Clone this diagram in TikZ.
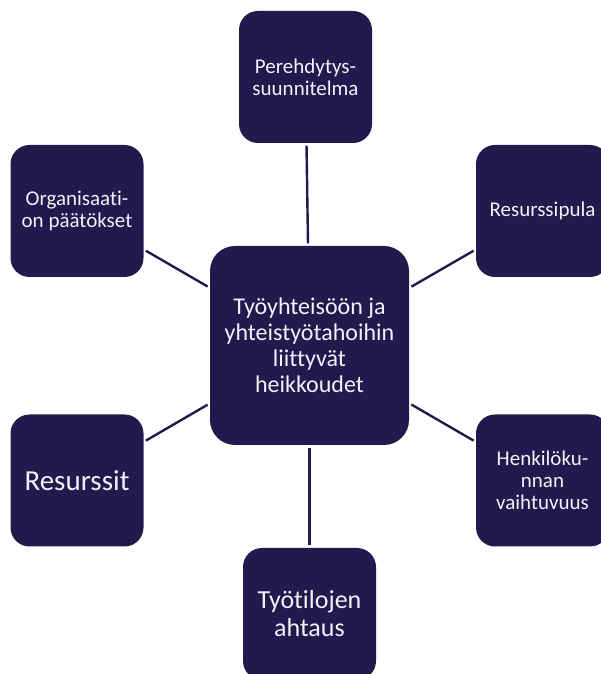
\documentclass[tikz,border=0pt]{standalone}
\usepackage{fontspec}
\setmainfont{Carlito}[Ligatures={NoCommon}]
\usepackage{tikz}
\usetikzlibrary{positioning}
\definecolor{navy}{HTML}{211A4D}
\definecolor{paletext}{HTML}{F2F0F8}

\begin{document}
\begin{tikzpicture}[
    x=1pt, y=1pt,
    every node/.style={font=\fontsize{21}{22}\selectfont},
    factor/.style={rectangle, rounded corners=19pt, fill=navy, text=paletext,
      align=center, inner sep=0pt, minimum width=133pt, minimum height=132pt},
    hubbox/.style={factor, rounded corners=25pt, minimum width=199pt,
      minimum height=199pt, font=\fontsize{24}{26}\selectfont},
    link/.style={draw=navy, line width=2.4pt, shorten <=2.5pt, shorten >=2.5pt}
]
\useasboundingbox (0,0) rectangle (600,674);
\node[hubbox] (hub) at (309.5,328.5) {Työyhteisöön ja\\yhteistyötahoihin\\liittyvät\\heikkoudet};
\node[factor] (perehdytys) at (305.5,597) {Perehdytys-\\suunnitelma};
\node[factor] (organisaatio) at (77,463) {Organisaati-\\on päätökset};
\node[factor] (resurssipula) at (542.5,463) {Resurssipula};
\node[factor, font=\fontsize{29}{30}\selectfont] (resurssit) at (77,193.5) {Resurssit};
\node[factor] (vaihtuvuus) at (542.5,193.5) {Henkilöku-\\nnan\\vaihtuvuus};
\node[factor, font=\fontsize{26}{28}\selectfont] (tyotilat) at (309.5,60) {Työtilojen\\ahtaus};

\draw[link] (hub) -- (perehdytys);
\draw[link] (hub) -- (organisaatio);
\draw[link] (hub) -- (resurssipula);
\draw[link] (hub) -- (resurssit);
\draw[link] (hub) -- (vaihtuvuus);
\draw[link] (hub) -- (tyotilat);
\end{tikzpicture}
\end{document}
